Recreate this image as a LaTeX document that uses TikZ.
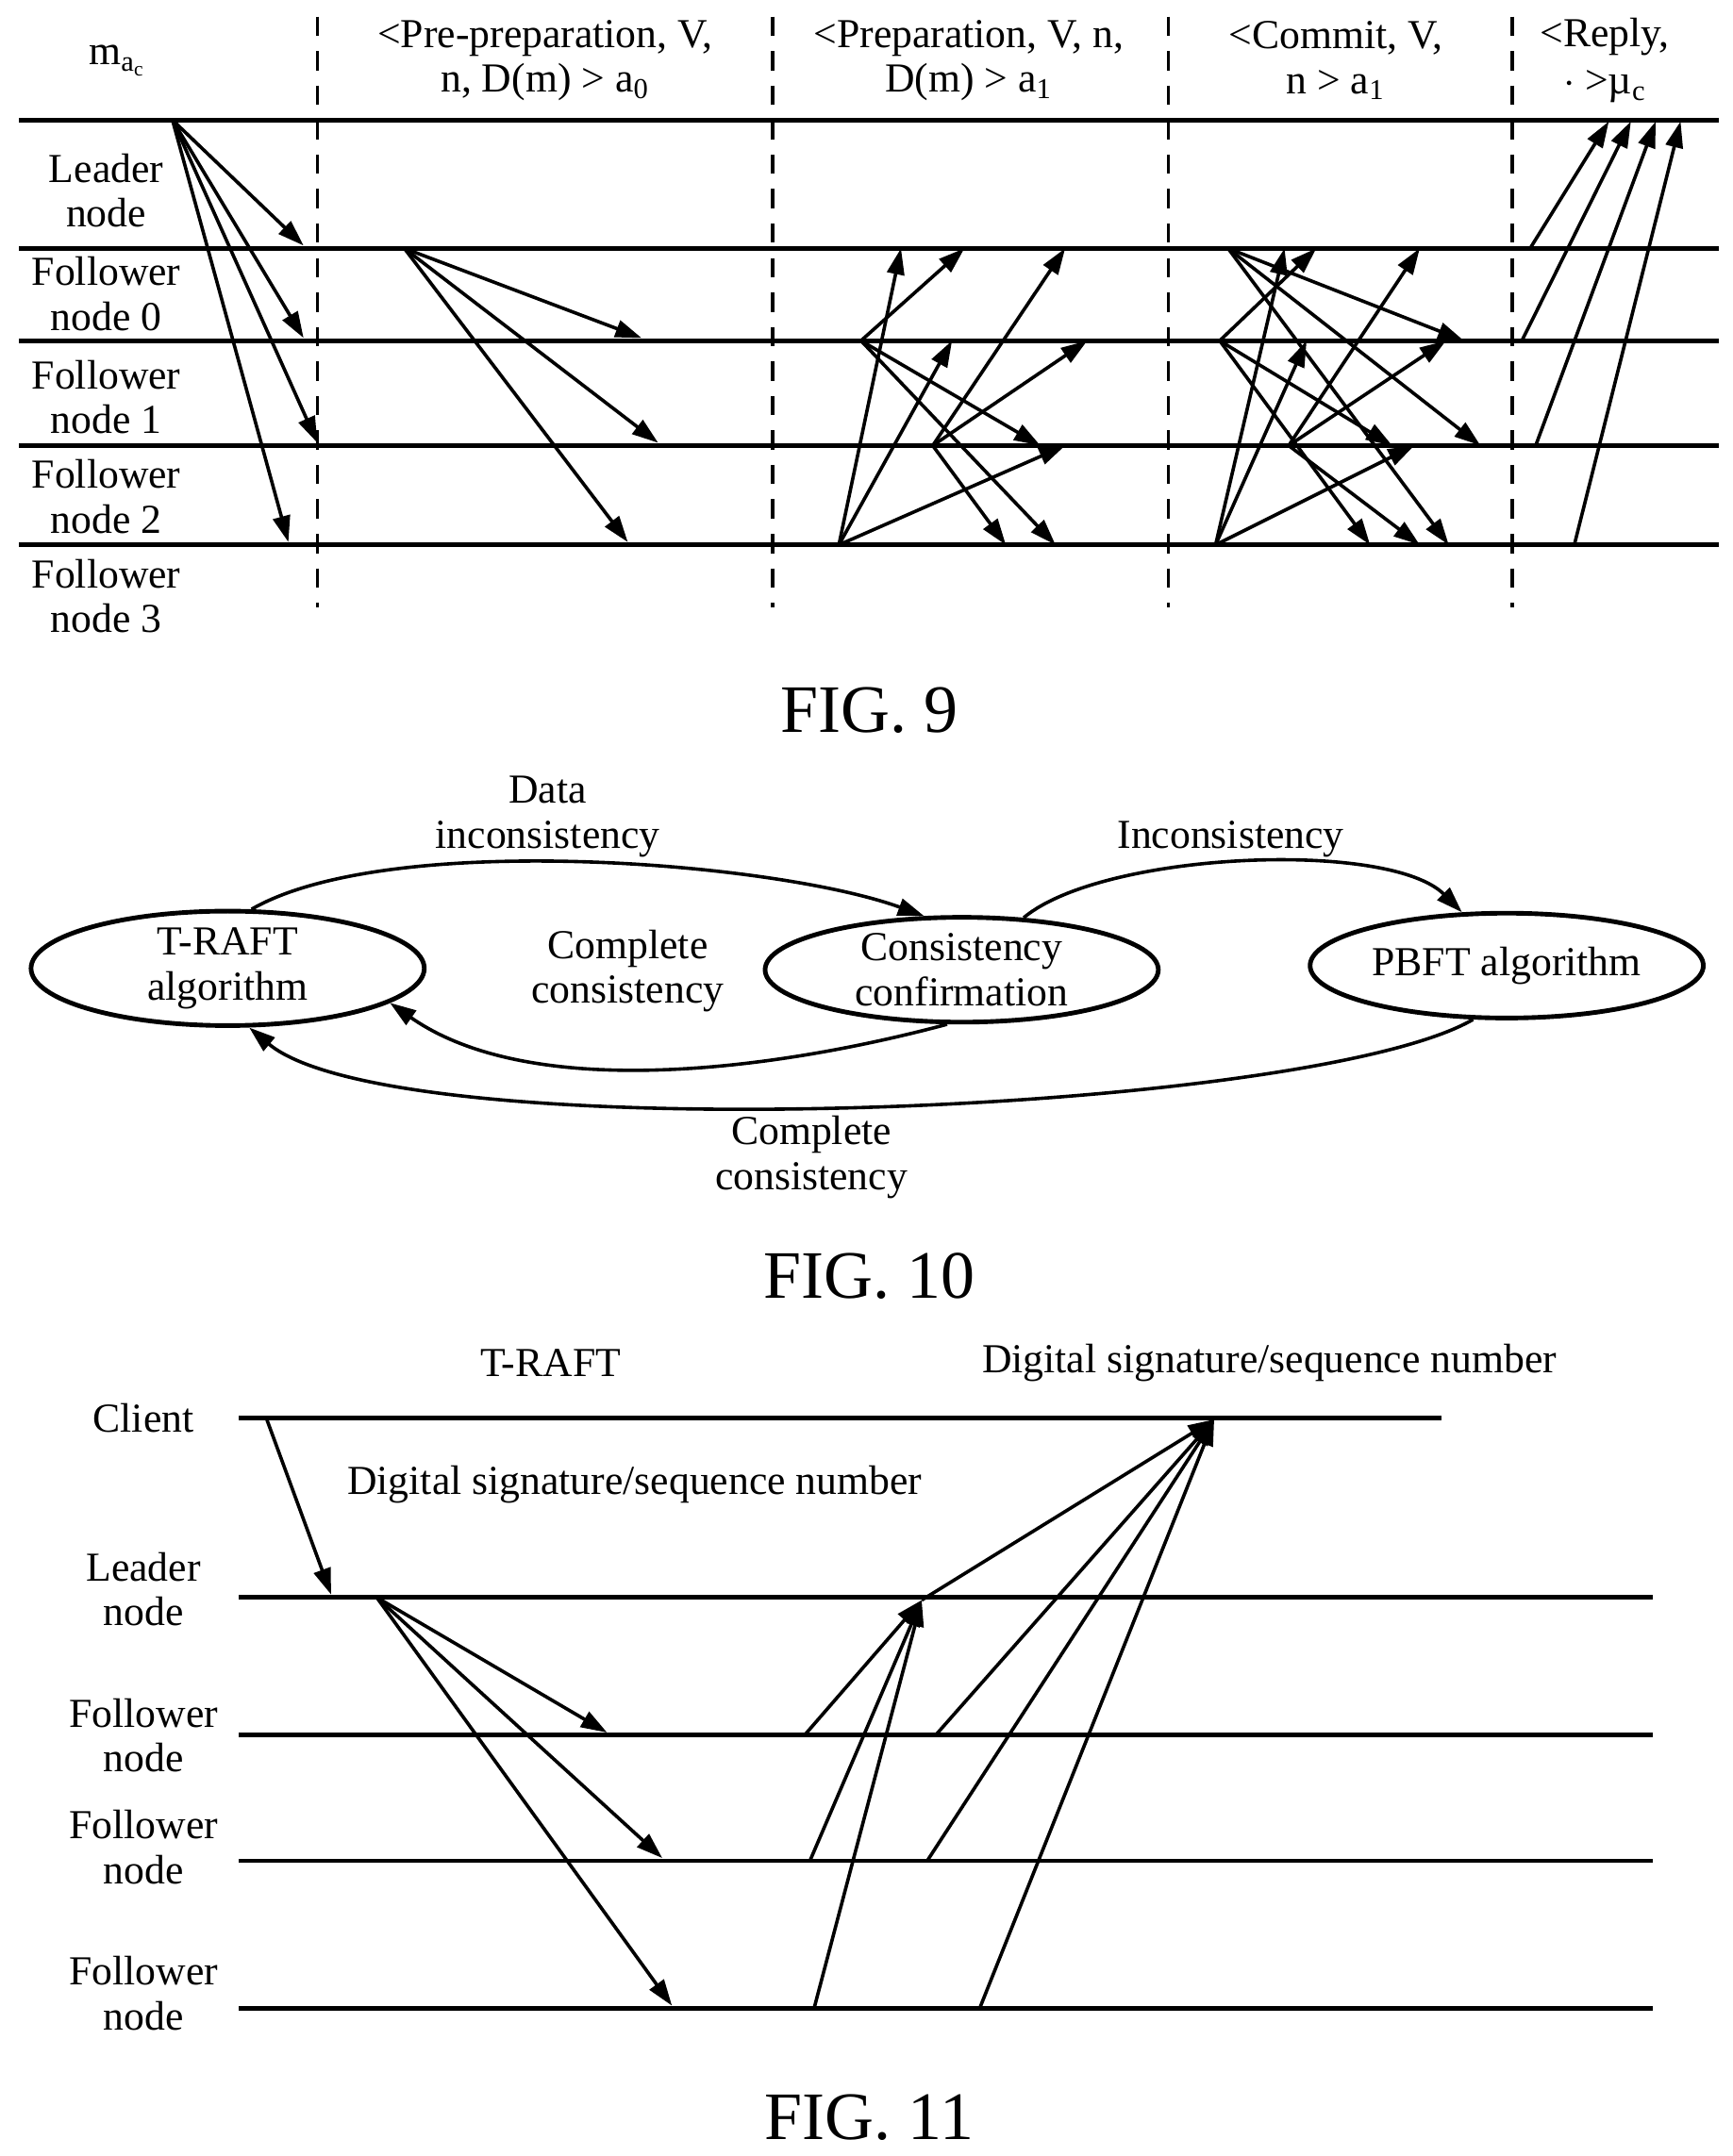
\documentclass[tikz,border=0pt]{standalone}
\usepackage{fontspec}
\setmainfont{Liberation Serif}
\usetikzlibrary{arrows.meta,shapes.geometric}
\tikzset{
  msg/.style={line width=1.4pt,-{Triangle[length=3.8mm,width=2.5mm]}},
  life/.style={line width=1.9pt},
  sep/.style={line width=1.3pt,dash pattern=on 2.8mm off 2.2mm},
  lbl/.style={align=center,font=\fontsize{17}{18.5}\selectfont,inner sep=0pt},
  state/.style={ellipse,draw,line width=1.9pt,minimum width=57mm,minimum height=15.2mm,inner sep=0pt,align=center,font=\fontsize{17}{18.5}\selectfont},
  figlbl/.style={font=\fontsize{28}{30}\selectfont,inner sep=0pt}
}
\begin{document}
\begin{tikzpicture}[x=0.2mm,y=-0.2mm]
\useasboundingbox (0,0) rectangle (1256,1563);

% FIG. 9
\foreach \y in {87,180,247,323,395} \draw[life] (14,\y) -- (1246,\y);
\foreach \x in {230,560,847,1096} \draw[sep] (\x,12) -- (\x,440);
\node[lbl] (mac) at (85,44) {m\textsubscript{a\textsubscript{c}}};
\node[lbl] (hpre) at (395,44) {<Pre-preparation, V,\\n, D(m) > a\textsubscript{0}};
\node[lbl] (hprep) at (702,44) {<Preparation, V, n,\\D(m) > a\textsubscript{1}};
\node[lbl] (hcom) at (968,44) {<Commit, V,\\n > a\textsubscript{1}};
\node[lbl] (hrep) at (1163,44) {<Reply,\\[1pt]$\cdot$ >\textmu\textsubscript{c}};
\node[lbl] (leader) at (77,138) {Leader\\node};
\node[lbl] (f0) at (77,213) {Follower\\node 0};
\node[lbl] (f1) at (77,288) {Follower\\node 1};
\node[lbl] (f2) at (77,360) {Follower\\node 2};
\node[lbl] (f3) at (77,432) {Follower\\node 3};

% request
\foreach \t in {(220,178),(220,245),(230,321),(209,393)} \draw[msg] (125,87) -- \t;
% pre-preparation
\foreach \t in {(465,245),(477,321),(455,393)} \draw[msg] (293,180) -- \t;
% preparation
\foreach \t in {(653,180),(690,247),(772,323)} \draw[msg] (608,395) -- \t;
\foreach \t in {(699,180),(754,323),(765,395)} \draw[msg] (624,247) -- \t;
\foreach \t in {(772,180),(788,247),(729,395)} \draw[msg] (676,323) -- \t;
% commit
\foreach \t in {(1061,247),(1073,323),(1050,395)} \draw[msg] (890,180) -- \t;
\foreach \t in {(954,180),(1009,323),(993,395)} \draw[msg] (884,247) -- \t;
\foreach \t in {(1029,180),(1048,247),(1029,395)} \draw[msg] (934,323) -- \t;
\foreach \t in {(931,180),(947,247),(1025,323)} \draw[msg] (881,395) -- \t;
% reply
\draw[msg] (1109,180) -- (1166,88);
\draw[msg] (1103,247) -- (1182,88);
\draw[msg] (1113,323) -- (1200,88);
\draw[msg] (1141,395) -- (1218,88);
\node[figlbl] (fig9) at (630,515) {FIG. 9};

% FIG. 10
\node[state] (traft) at (165,702) {T-RAFT\\algorithm};
\node[state] (conf) at (697,703) {Consistency\\confirmation};
\node[state] (pbft) at (1092,700) {PBFT algorithm};
\draw[msg] (traft.68) to[out=30,in=160,looseness=0.6] (conf.125);
\draw[msg] (conf.40) to[out=40,in=135,looseness=0.6] (pbft.130);
\draw[msg] (conf.255) to[out=-165,in=-35,looseness=0.8] (traft.-12);
\draw[msg] (pbft.238) to[out=-150,in=-40,looseness=0.4] (traft.-70);
\node[lbl] (l1) at (397,592) {Data\\inconsistency};
\node[lbl] (l2) at (892,608) {Inconsistency};
\node[lbl] (l3) at (455,704) {Complete\\consistency};
\node[lbl] (l4) at (588,839) {Complete\\consistency};
\node[figlbl] (fig10) at (630,925) {FIG. 10};

% FIG. 11
\draw[life] (173,1028) -- (1045,1028);
\foreach \y in {1158,1258,1349,1456} \draw[life] (173,\y) -- (1198,\y);
\node[lbl] (client) at (104,1028) {Client};
\node[lbl] (traftl) at (399,988) {T-RAFT};
\node[lbl] (sig1) at (920,988) {Digital signature/sequence number};
\node[lbl] (sig2) at (460,1076) {Digital signature/sequence number};
\node[lbl] (ld) at (104,1152) {Leader\\node};
\node[lbl] (fa) at (104,1258) {Follower\\node};
\node[lbl] (fb) at (104,1339) {Follower\\node};
\node[lbl] (fc) at (104,1445) {Follower\\node};
\coordinate (req) at (193,1028);
\coordinate (lin) at (240,1156);
\coordinate (lout) at (273,1158);
\coordinate (hub) at (668,1160);
\coordinate (cli) at (880,1029);
\draw[msg] (req) -- (lin);
\foreach \t in {(440,1256),(480,1347),(487,1454)} \draw[msg] (lout) -- \t;
\foreach \s in {(583,1258),(587,1349),(590,1456)} \draw[msg] \s -- (hub);
\draw[msg] (hub) -- (cli);
\foreach \s in {(678,1258),(672,1349),(710,1456)} \draw[msg] \s -- (cli);
\node[figlbl] (fig11) at (630,1535) {FIG. 11};
\end{tikzpicture}
\end{document}
